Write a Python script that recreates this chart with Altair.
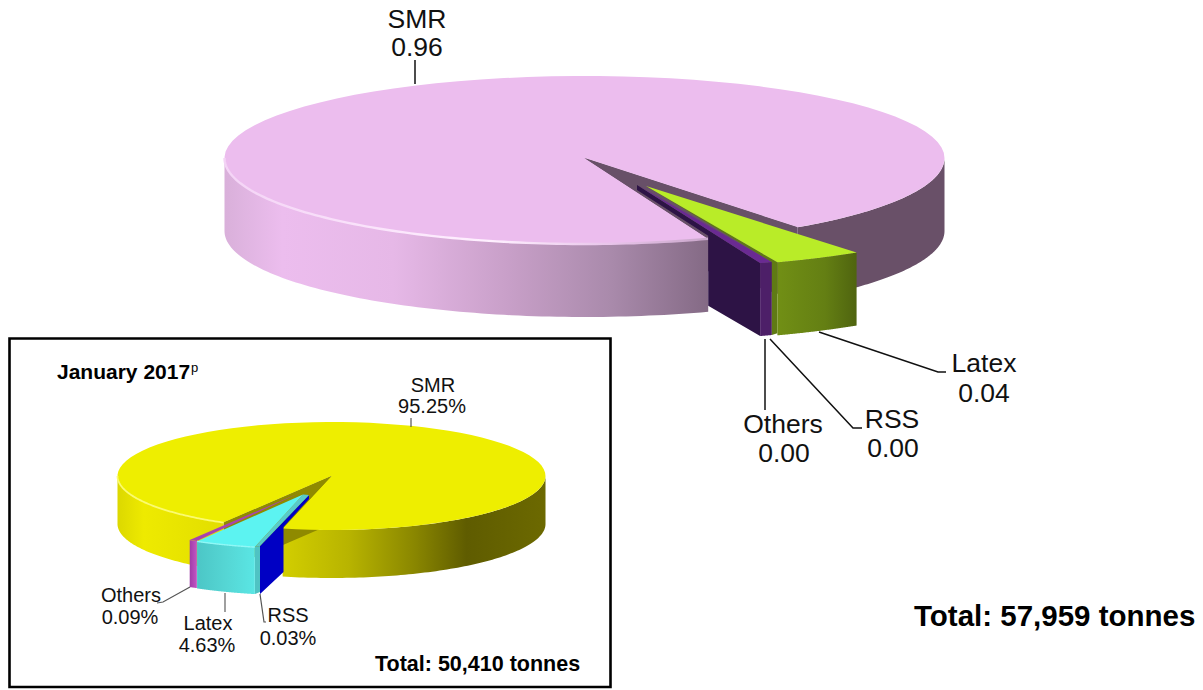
import math
import altair as alt
import pandas as pd

# ---------- values ----------
main_labels = ["SMR", "Latex", "RSS", "Others"]
main_values = ["0.96", "0.04", "0.00", "0.00"]
main_shares = [0.955, 0.04, 0.001, 0.004]
main_total = "Total: 57,959 tonnes"

inset_labels = ["SMR", "Latex", "RSS", "Others"]
inset_values = ["95.25%", "4.63%", "0.03%", "0.09%"]
inset_shares = [95.25, 4.63, 0.03, 0.09]
inset_total = "Total: 50,410 tonnes"
inset_title = "January 2017"

# ---------- layout ----------
W, H = 1187, 682
OX, OY = 8, 8          # picture coordinates -> chart coordinates
FONT = "Liberation Sans"


def rim(c, rx, ry, deg, dy=0):
    t = math.radians(deg)
    s = math.sin(t)
    r = ry if not isinstance(ry, tuple) else (ry[1] if s > 0 else ry[0])
    return (c[0] + rx * math.cos(t), c[1] + r * s + dy)


def arc(c, rx, ry, a, b, dy=0, n=90):
    return [rim(c, rx, ry, a + (b - a) * i / n, dy) for i in range(n + 1)]


def grad(pairs, horizontal=True):
    return alt.LinearGradient(
        gradient="linear",
        x1=0, y1=0, x2=1 if horizontal else 0, y2=0 if horizontal else 1,
        stops=[alt.GradientStop(color=c, offset=o) for o, c in pairs],
    )


def shape(geom, **mark):
    data = alt.InlineData(
        values={"type": "FeatureCollection",
                "features": [{"type": "Feature", "properties": {}, "geometry": geom}]},
        format=alt.DataFormat(property="features", type="json"),
    )
    return alt.Chart(data).mark_geoshape(**mark).project(
        type="identity", scale=1, translate=[-OX, -OY]
    )


def poly(pts, fill):
    ring = [list(p) for p in pts] + [list(pts[0])]
    return shape({"type": "Polygon", "coordinates": [ring]}, fill=fill, strokeWidth=0)


def curve(pts, stroke, width=2):
    return shape({"type": "LineString", "coordinates": [list(p) for p in pts]},
                 filled=False, stroke=stroke, strokeWidth=width)


def wall(c, rx, ry, a, b, d, fill):
    return poly(arc(c, rx, ry, a, b) + arc(c, rx, ry, b, a, d), fill)


def sx():
    return alt.Scale(domain=[OX, OX + W], range=[0, W])


def sy():
    return alt.Scale(domain=[OY, OY + H], range=[0, H])


def xyenc():
    return dict(x=alt.X("x:Q", scale=sx(), axis=None), y=alt.Y("y:Q", scale=sy(), axis=None))


def texts(rows, size, bold=False, align="center", color="#111111"):
    return alt.Chart(pd.DataFrame(rows, columns=["t", "x", "y"])).mark_text(
        font=FONT, fontSize=size, fontWeight="bold" if bold else "normal",
        align=align, baseline="alphabetic", color=color,
    ).encode(text="t:N", **xyenc())


def leader(pts, color, width=1.5):
    df = pd.DataFrame([dict(x=p[0], y=p[1], o=i) for i, p in enumerate(pts)])
    return alt.Chart(df).mark_line(color=color, strokeWidth=width, interpolate="linear").encode(
        order="o:Q", **xyenc())


layers = []

# ---------- inset frame ----------
frame = pd.DataFrame([dict(x=9.5, x2=610.5, y=338.5, y2=687)])
layers.append(
    alt.Chart(frame).mark_rect(fill="#ffffff", stroke="#000000", strokeWidth=2.6).encode(
        x=alt.X("x:Q", scale=sx(), axis=None), x2="x2:Q",
        y=alt.Y("y:Q", scale=sy(), axis=None), y2="y2:Q")
)

# ---------- main pie ----------
C, RX, RY, D = (584.5, 158), 360, (82, 86), 73
t_a = 53.7
t_b = t_a + (1 - main_shares[0]) * 360

layers += [
    wall(C, RX, RY, t_a, 0, D, "#695068"),
    poly([C, rim(C, RX, RY, t_a), rim(C, RX, RY, t_a, D), (C[0], C[1] + D)], "#685068"),
    wall(C, RX, RY, 180, t_b, D, grad([
        (0.0, "#d9b0da"), (0.12, "#ecbdee"), (0.35, "#e6b8e7"),
        (0.58, "#c9a0c9"), (0.80, "#a98aab"), (1.0, "#846a85")])),
    poly([C] + arc(C, RX, RY, t_b, t_a + 360), "#ecbdee"),
    poly([C, rim(C, RX, RY, t_a), rim(C, RX, RY, t_b)], "#685068"),
    curve(arc(C, RX, RY, 180, t_b), grad([
        (0.0, "#f4d4f6"), (0.55, "#fff0ff"), (0.8, "#e8c4ea"), (1.0, "#c9a6ca")]), 2.4),
]

# Latex slice (pulled out)
LA = (646, 186)
la0 = 54.2
la1 = la0 + main_shares[1] * 360
# Others/RSS sliver (pulled out)
OA = (637, 186)
o0, o1 = 68.0, 70.0
cut = rim(C, RX, RY, t_b)
w0 = rim(OA, RX, 82, o1)
w0b = rim(OA, RX, 82, o1, 73)
cut_bottom = (cut[0], w0b[1] - (w0b[0] - cut[0]) * 0.585)
layers += [
    poly([(OA[0], OA[1] - 1), w0, w0b, cut_bottom, (cut[0], cut[1] - 3), (OA[0], OA[1] + 4)], "#2d1345"),
    wall(OA, RX, 82, o0, o1, 73, "#4d1f68"),
    poly([(OA[0] + 2, OA[1]), rim(OA, RX, 82, o0), rim(OA, RX, 82, o1)], "#6a2a92"),
    poly([LA, rim(LA, RX, 82, la1), rim(LA, RX, 82, la1, 71), rim(OA, RX, 82, o0, 73), rim(OA, RX, 82, o0)], "#5f7a14"),
    wall(LA, RX, 82, la0, la1, 73, grad([(0.0, "#718f15"), (0.6, "#647f13"), (1.0, "#4f640f")])),
    poly([LA] + arc(LA, RX, 82, la0, la1), "#b9ec28"),
]

# ---------- inset pie ----------
c, rx, ry, d = (331.5, 476), 214, 54, 48
s_a = 103.2
s_b = s_a + (100 - inset_shares[0]) / 100 * 360
layers += [
    wall(c, rx, ry, s_a, 0, d, grad([
        (0.0, "#d2ce00"), (0.25, "#b8b400"), (0.5, "#8a8700"),
        (0.70, "#5f5c00"), (1.0, "#6c6900")])),
    poly([c, rim(c, rx, ry, s_b), rim(c, rx, ry, s_b, d), (c[0], c[1] + d)], "#8f8a00"),
    wall(c, rx, ry, 180, s_b, d, grad([
        (0.0, "#dcd800"), (0.25, "#eeea00"), (1.0, "#e2de00")])),
    poly([c] + arc(c, rx, ry, s_b, s_a + 360), "#eeee00"),
    poly([c, rim(c, rx, ry, s_a), rim(c, rx, ry, s_b)], "#8f8a00"),
    curve(arc(c, rx, ry, 180, s_b), "#fbfb70", 1.8),
]

ra = (309, 495)
lA = (303, 494.5)
oA = (298, 493.5)
l0 = 103.0
l1 = l0 + inset_shares[1] / 100 * 360
ob0, ob1 = 118.2, 120.4
layers += [
    # RSS side face
    poly([ra, (ra[0], ra[1] + 4), (283.5, 527), (283.5, 572), (260, 594), (260, 546)], "#0000c4"),
    # RSS top strip and outer band
    poly([ra, (260, 546), (255, 547), lA], "#58caca"),
    poly([(255, 547), (260, 546), (260, 592), (255, 594)], "#4fc3c3"),
    # Others
    wall(oA, rx, ry, ob0, ob1, 47, grad([(0.0, "#a03ca8"), (1.0, "#c256c4")])),
    poly([oA, rim(oA, rx, ry, ob0), rim(oA, rx, ry, ob1)], "#a843ad"),
    # Latex
    wall(lA, rx, ry, l0, l1, 47, grad([(0.0, "#4cc6c6"), (0.5, "#55d6d4"), (1.0, "#5ae6e4")])),
    poly([lA] + arc(lA, rx, ry, l0, l1), "#5cf3f1"),
    curve(arc(lA, rx, ry, l0, l1), "#8ff8f6", 1.4),
]

# ---------- leader lines ----------
layers += [
    leader([(415, 60), (415, 84)], "#111111"),
    leader([(819, 332), (938, 372), (946, 372)], "#111111"),
    leader([(770, 339), (853, 428), (862, 428)], "#111111"),
    leader([(765, 339), (765, 410)], "#111111"),
    leader([(411, 418), (411, 427)], "#555555", 1.2),
    leader([(190, 587), (163, 602), (157, 603)], "#555555", 1.2),
    leader([(225, 593), (225, 612)], "#777777", 1.4),
    leader([(260, 594), (264, 622), (266, 622)], "#555555", 1.2),
]

# ---------- text ----------
layers += [
    texts([(main_labels[0], 417, 27.5), (main_values[0], 417, 55.5),
           (main_labels[1], 984, 372), (main_values[1], 984, 402),
           (main_labels[2], 892, 428), (main_values[2], 893, 457),
           (main_labels[3], 783, 433), (main_values[3], 784, 462)], 26.5),
    texts([(main_total, 914, 626)], 29.5, bold=True, align="left", color="#000000"),
    texts([(inset_labels[0], 433, 392), (inset_values[0], 432, 413),
           (inset_labels[1], 208, 630), (inset_values[1], 207, 652),
           (inset_labels[2], 288, 622), (inset_values[2], 288, 645),
           (inset_labels[3], 131, 602), (inset_values[3], 130, 624)], 20),
    texts([(inset_title, 57, 379)], 21, bold=True, align="left", color="#000000"),
    texts([("p", 191, 372)], 13, align="left", color="#000000"),
    texts([(inset_total, 375, 671)], 21.5, bold=True, align="left", color="#000000"),
]

chart = alt.layer(*layers).properties(
    width=W, height=H, padding=0, autosize=alt.AutoSizeParams(type="none"),
).configure_view(stroke=None)

chart.save("out.html", embed_options={"renderer": "svg", "actions": False})
